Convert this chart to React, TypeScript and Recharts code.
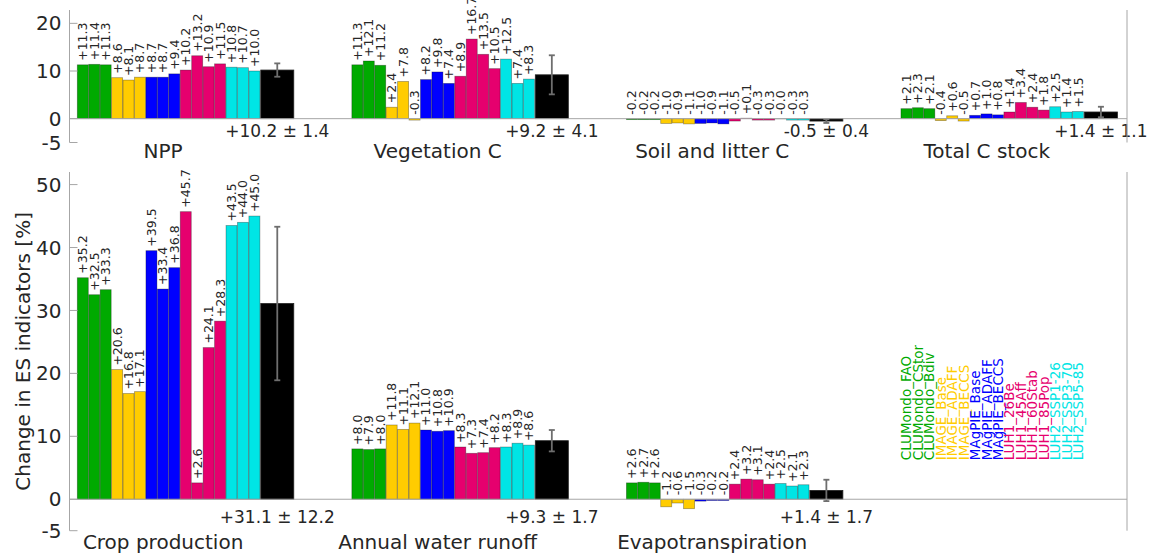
import React from 'react';
import { BarChart, Bar, XAxis, YAxis, ReferenceLine } from 'recharts';

// ---------- data ----------
const models = [
  'CLUMondo_FAO', 'CLUMondo_CStor', 'CLUMondo_Bdiv',
  'IMAGE_Base', 'IMAGE_ADAFF', 'IMAGE_BECCS',
  'MAgPIE_Base', 'MAgPIE_ADAFF', 'MAgPIE_BECCS',
  'LUH1_26Be', 'LUH1_45Aff', 'LUH1_60Stab', 'LUH1_85Pop',
  'LUH2_SSP1-26', 'LUH2_SSP3-70', 'LUH2_SSP5-85',
];

const topIndicators = ['NPP', 'Vegetation C', 'Soil and litter C', 'Total C stock'];
const nppChange = [11.3, 11.4, 11.3, 8.6, 8.1, 8.7, 8.7, 8.7, 9.4, 10.2, 13.2, 10.9, 11.5, 10.8, 10.7, 10.0];
const vegetationCChange = [11.3, 12.1, 11.2, 2.4, 7.8, -0.3, 8.2, 9.8, 7.4, 8.9, 16.7, 13.5, 10.5, 12.5, 7.4, 8.3];
const soilLitterCChange = [-0.2, -0.2, -0.2, -1.0, -0.9, -1.1, -1.0, -0.9, -1.1, -0.5, 0.1, -0.3, -0.3, -0.04, -0.3, -0.3];
const totalCStockChange = [2.1, 2.3, 2.1, -0.4, 0.6, -0.5, 0.7, 1.0, 0.8, 1.4, 3.4, 2.4, 1.8, 2.5, 1.4, 1.5];
const topMeans = [10.2, 9.2, -0.5, 1.4];
const topSpreads = [1.4, 4.1, 0.4, 1.1];

const bottomIndicators = ['Crop production', 'Annual water runoff', 'Evapotranspiration'];
const cropProductionChange = [35.2, 32.5, 33.3, 20.6, 16.8, 17.1, 39.5, 33.4, 36.8, 45.7, 2.6, 24.1, 28.3, 43.5, 44.0, 45.0];
const waterRunoffChange = [8.0, 7.9, 8.0, 11.8, 11.1, 12.1, 11.0, 10.8, 10.9, 8.3, 7.3, 7.4, 8.2, 8.3, 8.9, 8.6];
const evapotranspirationChange = [2.6, 2.7, 2.6, -1.2, -0.6, -1.5, -0.3, -0.2, -0.2, 2.4, 3.2, 3.1, 2.4, 2.5, 2.1, 2.3];
const bottomMeans = [31.1, 9.3, 1.4];
const bottomSpreads = [12.2, 1.7, 1.7];

const topTicks = [-5, 0, 10, 20];
const bottomTicks = [-5, 0, 10, 20, 30, 40, 50];
const topDomain: [number, number] = [-5, 22.8];
const bottomDomain: [number, number] = [-5, 52];
const yAxisTitle = 'Change in ES indicators [%]';

// ---------- styles ----------
const FONT = 'DejaVu Sans';
const TEXT = '#262626';
const AXIS = '#a6a6a6';
const familyColor: Record<string, string> = {
  CLUMondo: '#00AA00',
  IMAGE: '#FFCC00',
  MAgPIE: '#0000FF',
  LUH1: '#E6006E',
  LUH2: '#00E5E5',
};
const colorOf = (i: number) => familyColor[models[i].split('_')[0]];

// layout in category slots
const SLOTS_PER_GROUP = 24;
const LAST_GROUP_SLOTS = 19;
const MEAN_ROW = 17;
const TITLE_ROW = 7;
const MEAN_LABEL_DEPTH = 3.8; // data units below zero

type Row = {
  key: string;
  kind: 'model' | 'mean' | 'legend' | 'gap';
  v: number | null;
  err?: number;
  model?: number;
  title?: string;
};

function buildRows(
  indicators: string[],
  series: number[][],
  means: number[],
  spreads: number[],
  withLegend: boolean
): Row[] {
  const rows: Row[] = [];
  for (let g = 0; g < 4; g++) {
    const count = g === 3 ? LAST_GROUP_SLOTS : SLOTS_PER_GROUP;
    for (let r = 0; r < count; r++) {
      let row: Row = { key: `g${g}r${r}`, kind: 'gap', v: null };
      if (g < indicators.length) {
        if (r < models.length) row = { key: row.key, kind: 'model', v: series[g][r], model: r };
        else if (r === MEAN_ROW) row = { key: row.key, kind: 'mean', v: means[g], err: spreads[g] };
        if (r === TITLE_ROW) row.title = indicators[g];
      } else if (withLegend && r < models.length) {
        row = { key: row.key, kind: 'legend', v: 0, model: r };
      }
      rows.push(row);
    }
  }
  return rows;
}

const topRows = buildRows(topIndicators,
  [nppChange, vegetationCChange, soilLitterCChange, totalCStockChange], topMeans, topSpreads, false);
const bottomRows = buildRows(bottomIndicators,
  [cropProductionChange, waterRunoffChange, evapotranspirationChange], bottomMeans, bottomSpreads, true);

const fmt = (v: number) => (v >= 0 ? `+${v.toFixed(1)}` : v.toFixed(1));

function BarShape(props: any) {
  const { x, y, width, height, payload } = props;
  const row: Row | undefined = payload;
  if (!row || row.v == null || x == null || y == null || isNaN(x) || isNaN(y)) return <g />;
  const h = Math.abs(height || 0);
  const top = Math.min(y, y + (height || 0));
  if (row.kind === 'model') {
    const cx = x + width / 2;
    const ly = top - 4;
    return (
      <g>
        <rect x={x} y={top} width={width} height={Math.max(h, 0.01)} fill={colorOf(row.model!)}
          stroke="rgba(0,0,0,0.35)" strokeWidth={0.8} />
        <text x={cx} y={ly} transform={`rotate(-90 ${cx} ${ly})`} textAnchor="start"
          dominantBaseline="central" fontSize={12.5} fontFamily={FONT} fill={TEXT}>
          {fmt(row.v)}
        </text>
      </g>
    );
  }
  if (row.kind === 'mean') {
    const ppu = h / Math.abs(row.v);
    const zeroY = row.v >= 0 ? top + h : top;
    const valueY = zeroY - row.v * ppu;
    const bx = x - width;
    const bw = width * 3;
    const cx = bx + bw / 2;
    const e = (row.err || 0) * ppu;
    const cap = 3;
    return (
      <g>
        <rect x={bx} y={top} width={bw} height={Math.max(h, 0.01)} fill="#000" stroke="#222" strokeWidth={0.8} />
        <g stroke="#6e6e6e" strokeWidth={1.8}>
          <line x1={cx} x2={cx} y1={valueY - e} y2={valueY + e} />
          <line x1={cx - cap} x2={cx + cap} y1={valueY - e} y2={valueY - e} />
          <line x1={cx - cap} x2={cx + cap} y1={valueY + e} y2={valueY + e} />
        </g>
        <text x={cx} y={zeroY + MEAN_LABEL_DEPTH * ppu} textAnchor="middle" fontSize={17}
          fontFamily={FONT} fill={TEXT}>
          {`${fmt(row.v)} \u00B1 ${(row.err || 0).toFixed(1)}`}
        </text>
      </g>
    );
  }
  if (row.kind === 'legend') {
    const cx = x + width / 2;
    const ly = y - 39;
    return (
      <text x={cx} y={ly} transform={`rotate(-90 ${cx} ${ly})`} textAnchor="start"
        dominantBaseline="central" fontSize={13.5} fontFamily={FONT} fill={colorOf(row.model!)}>
        {models[row.model!]}
      </text>
    );
  }
  return <g />;
}

function makeTitleTick(rows: Row[], dy: number) {
  const titles: Record<string, string> = {};
  rows.forEach((r) => { if (r.title) titles[r.key] = r.title; });
  return (p: any) => {
    const t = titles[p.payload?.value];
    if (!t) return <g />;
    return (
      <text x={p.x} y={p.y + dy} textAnchor="middle" fontSize={20} fontFamily={FONT} fill={TEXT}>{t}</text>
    );
  };
}

const renderYTitle = (p: any) => {
  const vb = p.viewBox || {};
  const cx = (vb.x || 0) + 15.5;
  const cy = (vb.y || 0) + (vb.height || 0) / 2;
  return (
    <text x={cx} y={cy} transform={`rotate(-90 ${cx} ${cy})`} textAnchor="middle"
      dominantBaseline="central" fontSize={20} fontFamily={FONT} fill={TEXT}>
      {yAxisTitle}
    </text>
  );
};

function Panel(props: {
  rows: Row[]; domain: [number, number]; ticks: number[]; height: number;
  top: number; bottom: number; titleDy: number; yTitle?: boolean;
}) {
  const { rows, domain, ticks, height, top, bottom, titleDy, yTitle } = props;
  return (
    <BarChart width={1143} height={height} data={rows}
      margin={{ top, right: 23, bottom, left: 0 }} barCategoryGap={0} barGap={0}>
      <XAxis dataKey="key" type="category" interval={0} axisLine={false} tickLine={false}
        tickSize={0} tickMargin={0} height={20} padding={{ left: 7.8, right: 8.7 }}
        tick={makeTitleTick(rows, titleDy)} />
      <YAxis yAxisId="l" domain={domain} ticks={ticks} interval={0} width={61.5}
        tickSize={-8} tickMargin={16} axisLine={{ stroke: AXIS }} tickLine={{ stroke: AXIS }}
        tick={{ fill: TEXT, fontSize: 20, fontFamily: FONT }}
        label={yTitle ? { content: renderYTitle } : undefined} />
      <YAxis yAxisId="r" orientation="right" domain={domain} ticks={ticks} interval={0}
        width={1} tickSize={-8} tick={false} axisLine={{ stroke: AXIS }} tickLine={{ stroke: AXIS }} />
      <ReferenceLine yAxisId="l" y={0} stroke={AXIS} strokeWidth={1} />
      <Bar yAxisId="l" dataKey="v" isAnimationActive={false} shape={(p: any) => <BarShape {...p} />} />
    </BarChart>
  );
}

export default function App() {
  return (
    <div style={{ position: 'relative', width: 1151, height: 554, fontFamily: FONT }}>
      <style>{'body { margin: 0; }'}</style>
      <div style={{ position: 'absolute', left: 8, top: 0 }}>
        <Panel rows={topRows} domain={topDomain} ticks={topTicks} height={168} top={10} bottom={5.5} titleDy={15.5} />
      </div>
      <div style={{ position: 'absolute', left: 8, top: 168 }}>
        <Panel rows={bottomRows} domain={bottomDomain} ticks={bottomTicks} height={386} top={4} bottom={3.3}
          titleDy={18} yTitle />
      </div>
    </div>
  );
}
